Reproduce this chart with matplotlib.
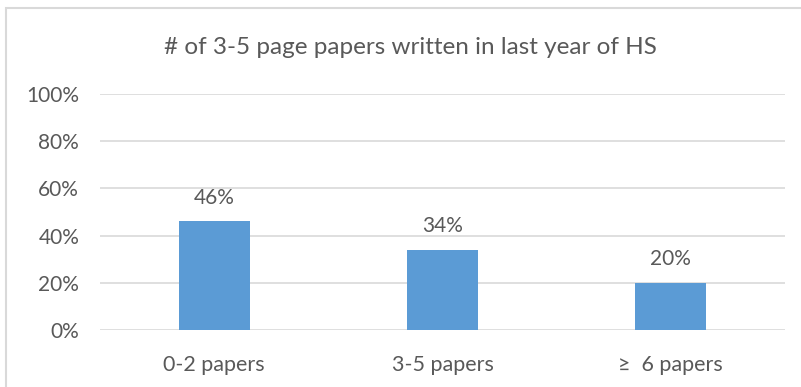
import matplotlib
matplotlib.use("Agg")
import matplotlib.pyplot as plt
from matplotlib.patches import Rectangle

categories = ["0-2 papers", "3-5 papers", "\u2265  6 papers"]
values = [46, 34, 20]
yticks = [0, 20, 40, 60, 80, 100]
title = "# of 3-5 page papers written in last year of HS"

plt.rcParams['font.family'] = ['Lato', 'DejaVu Sans']
text_color = "#595959"
grid_color = "#d9d9d9"
bar_color = "#5b9bd5"

fig = plt.figure(figsize=(8.01, 3.87), dpi=100)
ax = fig.add_axes([100 / 801, 1 - 330 / 387, 685 / 801, 236 / 387])

x = range(len(categories))
bars = ax.bar(x, values, width=0.31, color=bar_color, zorder=3)
for xi, v in zip(x, values):
    ax.annotate(f"{v}%", (xi, v), xytext=(0, 17), textcoords="offset points",
                ha="center", va="center", fontsize=15, color=text_color)

ax.set_xlim(-0.5, len(categories) - 0.5)
ax.set_ylim(0, 100)
ax.set_yticks(yticks)
ax.set_yticklabels([f"{t}%" for t in yticks], fontsize=15, color=text_color)
ax.set_xticks(list(x))
ax.set_xticklabels(categories, fontsize=15.5, color=text_color)
ax.tick_params(axis="y", length=0, pad=15)
ax.tick_params(axis="x", length=0, pad=18)
ax.grid(axis="y", color=grid_color, linewidth=1.2, zorder=0)
for s in ax.spines.values():
    s.set_visible(False)

fig.text(410 / 801, 1 - 48 / 387, title, ha="center", va="center", fontsize=17.5, color=text_color)

# chart frame
fig.patches.append(Rectangle((6 / 801, -0.05), 1.1, 1 - 8 / 387 + 0.05, transform=fig.transFigure,
                             fill=False, edgecolor="#d9d9d9", linewidth=1.5))

fig.savefig("out.png", dpi=100)
